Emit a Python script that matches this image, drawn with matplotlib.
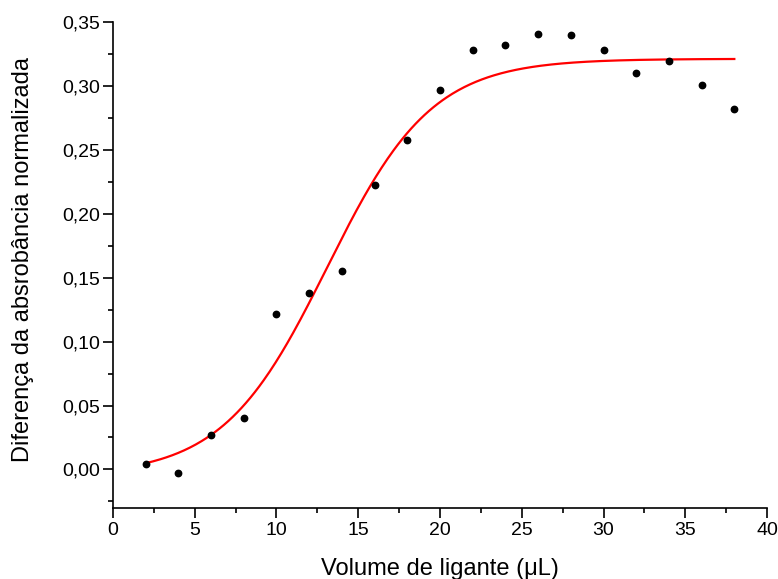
import numpy as np
import matplotlib
matplotlib.use("Agg")
import matplotlib.pyplot as plt
from matplotlib.ticker import MultipleLocator, FuncFormatter

plt.rcParams['font.family'] = ['Liberation Sans', 'DejaVu Sans']

# Measured points: ligand volume (uL) vs normalised absorbance difference
volume = [2, 4, 6, 8, 10, 12, 14, 16, 18, 20, 22, 24, 26, 28, 30, 32, 34, 36, 38]
abs_diff = [0.0045, -0.003, 0.027, 0.040, 0.122, 0.138, 0.155, 0.223, 0.258,
            0.297, 0.328, 0.332, 0.341, 0.340, 0.328, 0.310, 0.320, 0.301, 0.282]

# Boltzmann fit parameters
A1 = -0.005
A2 = 0.3214
x0 = 13.1
dx = 3.2

x_ticks = [0, 5, 10, 15, 20, 25, 30, 35, 40]
y_ticks = [0.00, 0.05, 0.10, 0.15, 0.20, 0.25, 0.30, 0.35]

fig = plt.figure(figsize=(7.78, 5.79), dpi=100)
ax = fig.add_axes([0.1452, 0.1231, 0.8407, 0.8384])

xf = np.linspace(min(volume), max(volume), 400)
yf = A2 + (A1 - A2) / (1 + np.exp((xf - x0) / dx))
ax.plot(xf, yf, color='#ff0000', lw=1.6, zorder=2)
ax.plot(volume, abs_diff, 'o', color='black', ms=4.6, zorder=3)

ax.set_xlim(0, 40)
ax.set_ylim(-0.03, 0.35)
ax.set_xticks(x_ticks)
ax.set_yticks(y_ticks)
ax.xaxis.set_minor_locator(MultipleLocator(2.5))
ax.yaxis.set_minor_locator(MultipleLocator(0.025))
ax.yaxis.set_major_formatter(FuncFormatter(lambda v, p: f"{v:.2f}".replace('.', ',')))
ax.xaxis.set_major_formatter(FuncFormatter(lambda v, p: f"{v:.0f}"))

for side in ('top', 'right'):
    ax.spines[side].set_visible(False)
for side in ('left', 'bottom'):
    ax.spines[side].set_linewidth(1.2)

ax.tick_params(which='major', direction='out', length=7, width=1.2,
               labelsize=14, pad=3)
ax.tick_params(which='minor', direction='out', length=3.8, width=1.2)
ax.tick_params(axis='y', which='major', pad=2)

ax.set_xlabel('Volume de ligante (\u03bcL)', fontsize=17, labelpad=14)
ax.set_ylabel('Diferença da absrobância normalizada', fontsize=17)
ax.yaxis.set_label_coords(-0.121, 0.512)

fig.savefig('out.png', dpi=100)
